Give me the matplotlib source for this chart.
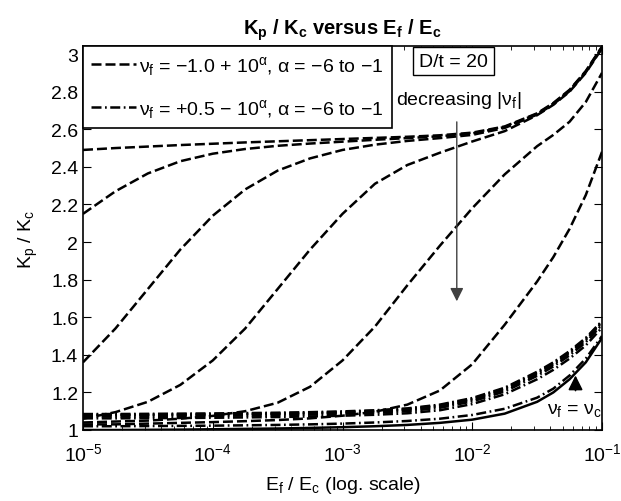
import matplotlib
matplotlib.use("Agg")
import matplotlib.pyplot as plt
import numpy as np
from matplotlib.ticker import FixedLocator, FormatStrFormatter

plt.rcParams["font.family"] = ["Liberation Sans", "DejaVu Sans"]
plt.rcParams["mathtext.fontset"] = "custom"
plt.rcParams["mathtext.rm"] = "Liberation Sans"
plt.rcParams["mathtext.it"] = "Liberation Sans:italic"
plt.rcParams["mathtext.bf"] = "Liberation Sans:bold"
plt.rcParams["mathtext.default"] = "regular"

# log10(Ef/Ec) sample points
log_ratio = [-5, -4.75, -4.5, -4.25, -4, -3.75, -3.5, -3.25, -3, -2.75,
             -2.5, -2.25, -2, -1.75, -1.5, -1.375, -1.25, -1.125, -1]

# nu_f = -1.0 + 10^alpha, alpha = -6 .. -1  (dashed)
dashed_curves = [
    [2.49, 2.50, 2.508, 2.516, 2.523, 2.53, 2.536, 2.542, 2.548, 2.554,
     2.56, 2.568, 2.582, 2.615, 2.685, 2.74, 2.81, 2.91, 3.04],
    [2.15, 2.27, 2.365, 2.43, 2.47, 2.495, 2.512, 2.524, 2.534, 2.544,
     2.553, 2.563, 2.578, 2.612, 2.682, 2.737, 2.807, 2.907, 3.037],
    [1.36, 1.54, 1.75, 1.96, 2.14, 2.28, 2.38, 2.445, 2.49, 2.518,
     2.538, 2.553, 2.57, 2.607, 2.678, 2.733, 2.803, 2.903, 3.033],
    [1.06, 1.095, 1.15, 1.24, 1.37, 1.54, 1.75, 1.96, 2.15, 2.31,
     2.41, 2.475, 2.535, 2.59, 2.675, 2.73, 2.80, 2.90, 3.03],
    [1.04, 1.045, 1.05, 1.06, 1.075, 1.10, 1.145, 1.23, 1.37, 1.55,
     1.77, 1.98, 2.18, 2.36, 2.51, 2.57, 2.64, 2.745, 2.90],
    [1.03, 1.03, 1.034, 1.038, 1.042, 1.047, 1.053, 1.062, 1.076, 1.097,
     1.135, 1.21, 1.35, 1.56, 1.79, 1.92, 2.07, 2.25, 2.48],
]

# nu_f = +0.5 - 10^alpha, alpha = -6 .. -1  (dash-dot)
dashdot_curves = [
    [1.085, 1.085, 1.086, 1.087, 1.088, 1.090, 1.092, 1.095, 1.099, 1.105,
     1.115, 1.135, 1.17, 1.225, 1.31, 1.36, 1.42, 1.49, 1.58],
    [1.082, 1.082, 1.083, 1.084, 1.085, 1.087, 1.089, 1.092, 1.096, 1.102,
     1.112, 1.131, 1.166, 1.221, 1.305, 1.355, 1.415, 1.485, 1.575],
    [1.078, 1.078, 1.079, 1.080, 1.081, 1.083, 1.085, 1.088, 1.092, 1.098,
     1.107, 1.126, 1.16, 1.214, 1.298, 1.348, 1.408, 1.478, 1.57],
    [1.072, 1.072, 1.073, 1.074, 1.075, 1.077, 1.079, 1.082, 1.086, 1.092,
     1.100, 1.118, 1.152, 1.205, 1.288, 1.338, 1.397, 1.467, 1.56],
    [1.062, 1.062, 1.063, 1.064, 1.065, 1.067, 1.069, 1.072, 1.076, 1.081,
     1.089, 1.105, 1.138, 1.19, 1.27, 1.32, 1.38, 1.45, 1.545],
    [1.020, 1.020, 1.021, 1.022, 1.023, 1.025, 1.027, 1.030, 1.034, 1.040,
     1.048, 1.060, 1.080, 1.113, 1.172, 1.22, 1.29, 1.38, 1.50],
]

# nu_f = nu_c  (solid)
solid_curve = [1.000, 1.000, 1.001, 1.002, 1.004, 1.006, 1.008, 1.011, 1.015, 1.020,
               1.027, 1.038, 1.055, 1.087, 1.15, 1.20, 1.27, 1.36, 1.49]

y_ticks = [1, 1.2, 1.4, 1.6, 1.8, 2, 2.2, 2.4, 2.6, 2.8, 3]

x = 10.0 ** np.array(log_ratio)

fig = plt.figure(figsize=(6.21, 5.02), dpi=100)
ax = fig.add_axes([83 / 621, 1 - 431 / 502, (602 - 83) / 621, (431 - 47) / 502])

lw = 1.8
for i, ys in enumerate(dashed_curves):
    ax.plot(x, ys, color="k", lw=lw, dashes=(4, 1.6),
            label=r"ν$_f$ = −1.0 + 10$^{α}$, α = −6 to −1" if i == 0 else None)
for i, ys in enumerate(dashdot_curves):
    ax.plot(x, ys, color="k", lw=lw, dashes=(4, 1.4, 0.7, 1.4),
            label=r"ν$_f$ = +0.5 − 10$^{α}$, α = −6 to −1" if i == 0 else None)
ax.plot(x, solid_curve, color="k", lw=lw)

ax.set_xscale("log")
ax.set_xlim(1e-5, 1e-1)
ax.set_ylim(1, 3.043)
ax.yaxis.set_major_locator(FixedLocator(y_ticks))
ax.yaxis.set_major_formatter(FormatStrFormatter("%g"))
ax.tick_params(which="both", direction="in", top=True, right=True, labelsize=14)
ax.tick_params(which="major", length=6, width=0.8)
ax.tick_params(which="minor", length=3, width=0.6)
ax.tick_params(axis="x", which="major", pad=9)
for sp in ax.spines.values():
    sp.set_linewidth(1.2)

ax.set_title(r"K$_{\mathbf{p}}$ / K$_{\mathbf{c}}$ versus E$_{\mathbf{f}}$ / E$_{\mathbf{c}}$",
             fontsize=14.5, fontweight="bold", pad=9)
ax.set_xlabel(r"E$_f$ / E$_c$ (log. scale)", fontsize=14, labelpad=7)
ax.set_ylabel(r"K$_p$ / K$_c$", fontsize=14, labelpad=8)

leg = ax.legend(loc="upper left", borderaxespad=0, fontsize=14, fancybox=False,
                framealpha=1, edgecolor="k", handlelength=2.3, handletextpad=0.2,
                labelspacing=1.05, borderpad=0.4)
leg.get_frame().set_linewidth(1.2)

ax.text(7.2e-3, 2.963, "D/t = 20", fontsize=14, ha="center", va="center",
        bbox=dict(boxstyle="square,pad=0.3", fc="white", ec="k", lw=1.0))
ax.text(7.8e-3, 2.76, r"decreasing |ν$_f$|", fontsize=14, ha="center", va="center")
ax.annotate("", xy=(7.6e-3, 1.67), xytext=(7.6e-3, 2.654),
            arrowprops=dict(arrowstyle="-|>", color="0.25", lw=1.0, mutation_scale=20))
ax.text(0.099, 1.11, r"ν$_f$ = ν$_c$", fontsize=14, ha="right", va="center")
ax.annotate("", xy=(0.0625, 1.305), xytext=(0.0625, 1.195),
            arrowprops=dict(arrowstyle="-|>", color="k", lw=1.2, mutation_scale=22))

fig.savefig("out.png", dpi=100)
